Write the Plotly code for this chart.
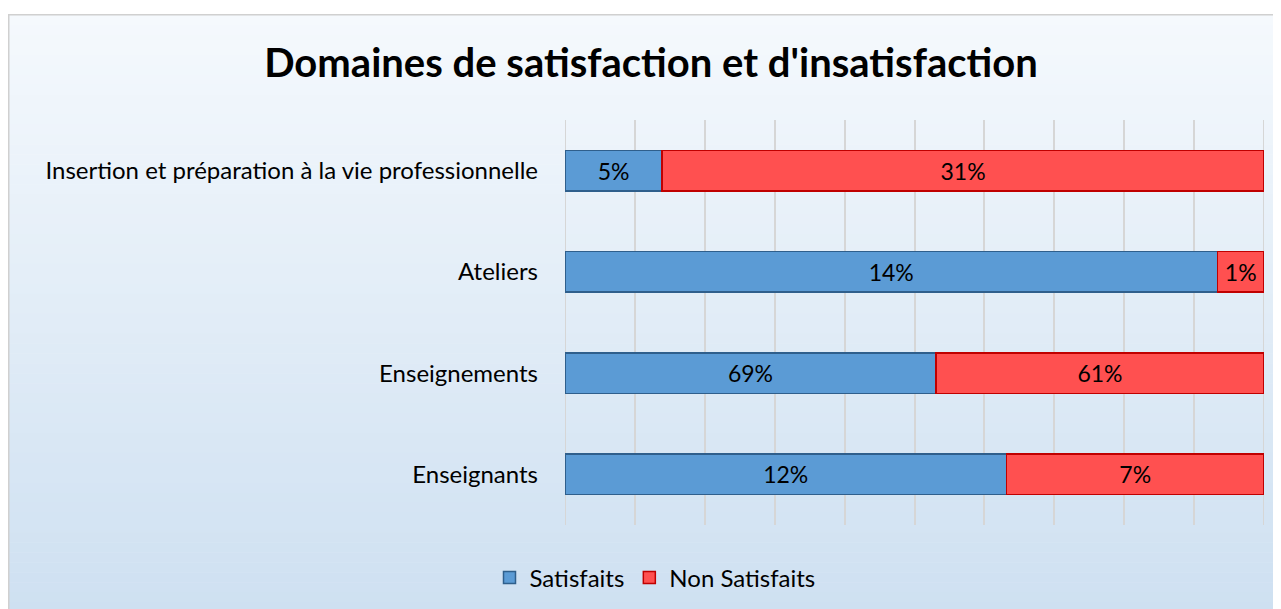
import plotly.graph_objects as go

categories = ["Insertion et préparation à la vie professionnelle", "Ateliers", "Enseignements", "Enseignants"]
satisfaits = [5, 14, 69, 12]
non_satisfaits = [31, 1, 61, 7]
series_names = ["Satisfaits", "Non Satisfaits"]

# figure is placed at (8,8) in the page (body margin)
OFF = 8
W, H = 1281 - OFF, 609 - OFF
L = 565 - OFF
R = W - (1264 - OFF)
T = 120 - OFF
B = H - (525 - OFF)

fig = go.Figure()
fig.add_trace(go.Bar(
    y=categories, x=satisfaits, orientation="h", name=series_names[0],
    text=[f"{v}%" for v in satisfaits], textposition="inside", insidetextanchor="middle",
    textfont=dict(size=23, color="black"),
    marker=dict(color="#5B9BD5", line=dict(color="#2F5F8C", width=1.5)),
))
fig.add_trace(go.Bar(
    y=categories, x=non_satisfaits, orientation="h", name=series_names[1],
    text=[f"{v}%" for v in non_satisfaits], textposition="inside", insidetextanchor="middle",
    textfont=dict(size=23, color="black"),
    marker=dict(color="#FF5050", line=dict(color="#C00000", width=1.5)),
))


def px2x(px):  # page pixel -> paper x
    return (px - OFF - L) / (W - L - R)


def py2y(py):  # page pixel -> paper y
    return (H - B - (py - OFF)) / (H - T - B)


shapes = []
top_c = (0xF5, 0xF9, 0xFD)
bot_c = (0xCE, 0xE0, 0xF1)
y0, y1 = 15, 612
n = 60
for i in range(n):
    a = y0 + (y1 - y0) * i / n
    b = y0 + (y1 - y0) * (i + 1) / n + 0.5
    t = (i + 0.5) / n
    c = tuple(round(top_c[k] + (bot_c[k] - top_c[k]) * t) for k in range(3))
    shapes.append(dict(type="rect", xref="paper", yref="paper", layer="below",
                       x0=px2x(8), x1=px2x(1295), y0=py2y(b), y1=py2y(a),
                       fillcolor="rgb(%d,%d,%d)" % c, line=dict(width=0)))
shapes.append(dict(type="rect", xref="paper", yref="paper", layer="below",
                   x0=px2x(8.75), x1=px2x(1295), y0=py2y(620), y1=py2y(14.75),
                   fillcolor="rgba(0,0,0,0)", line=dict(color="#D0D0D0", width=1.5)))
# gridlines at both ends of the axis range
for xv in (0, 100):
    shapes.append(dict(type="line", xref="x", yref="paper", layer="below",
                       x0=xv, x1=xv, y0=0, y1=1, line=dict(color="#D6D6D6", width=2)))

fig.update_layout(
    width=W, height=H,
    margin=dict(l=L, r=R, t=T, b=B),
    paper_bgcolor="white",
    plot_bgcolor="rgba(0,0,0,0)",
    barmode="stack", barnorm="percent", bargap=0.6,
    font=dict(family="Lato, Open Sans, sans-serif", size=24, color="black"),
    title=dict(text="<b>Domaines de satisfaction et d'insatisfaction</b>",
               font=dict(size=40, color="black"),
               x=(651 - OFF) / W, xref="container", xanchor="center",
               y=1 - (63 - OFF) / H, yref="container", yanchor="middle"),
    xaxis=dict(range=[0, 100], dtick=10, showgrid=True, gridcolor="#D6D6D6", gridwidth=2,
               zeroline=False, showticklabels=False, showline=False, fixedrange=True),
    yaxis=dict(autorange="reversed", showgrid=False, showline=False, ticks="",
               ticklabelstandoff=26, tickfont=dict(size=24, color="black")),
    legend=dict(orientation="h", x=(655 - OFF) / W, xref="container", xanchor="center",
                y=1 - (578 - OFF) / H, yref="container", yanchor="middle",
                font=dict(size=24), traceorder="normal", itemwidth=30,
                bgcolor="rgba(0,0,0,0)"),
    shapes=shapes,
    showlegend=True,
)

fig.write_html("out.html")
